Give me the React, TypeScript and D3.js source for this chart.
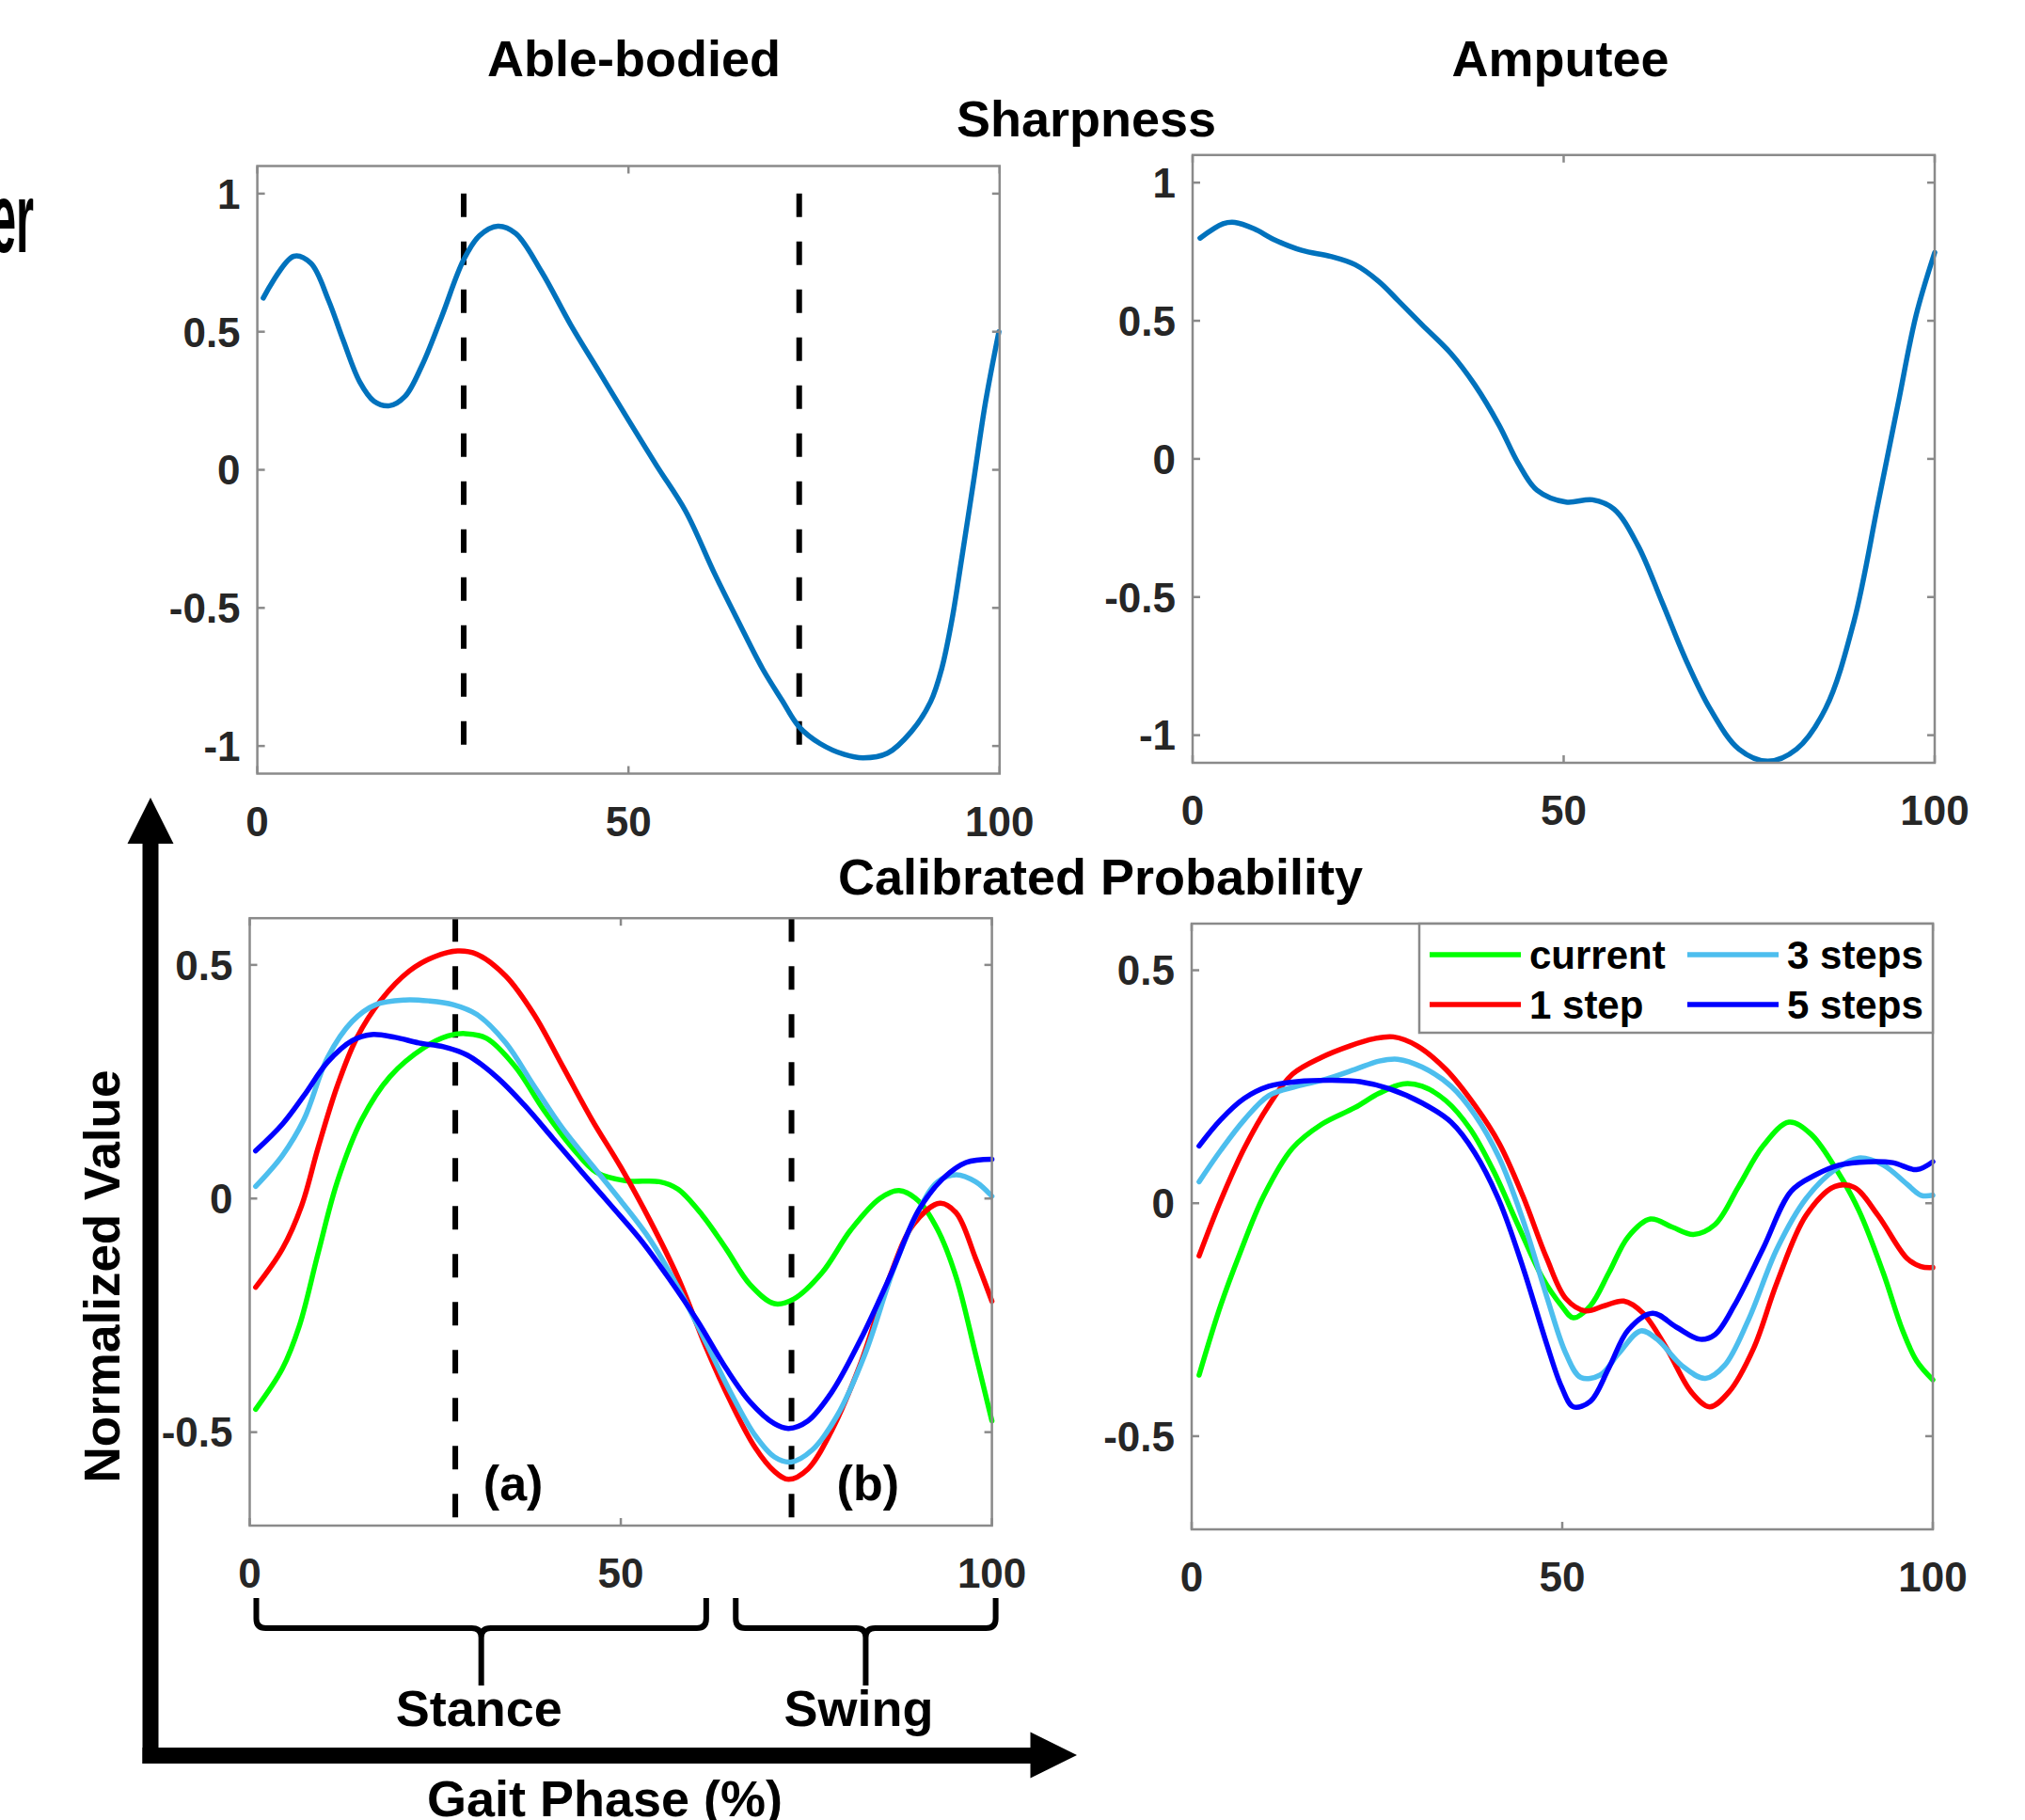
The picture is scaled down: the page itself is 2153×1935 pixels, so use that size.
import React from 'react'
import * as d3 from 'd3'

// gait phase (%) vs normalized value
const ableSharpness: [number, number][] = [
  [0.8, 0.622], [4.9, 0.773], [7.2, 0.748], [9.6, 0.613], [11.5, 0.474], [13.8, 0.318],
  [15.7, 0.249], [17.8, 0.232], [19.9, 0.266], [22.2, 0.379], [24.8, 0.552], [27.8, 0.761],
  [29.9, 0.847], [32.4, 0.882], [34.8, 0.856], [38.3, 0.717], [42.2, 0.526], [46.1, 0.353],
  [50.0, 0.18], [53.8, 0.015], [57.7, -0.15], [61.6, -0.376], [64.8, -0.549], [68.1, -0.722],
  [70.7, -0.835], [73.0, -0.931], [75.8, -0.991], [79.1, -1.031], [81.6, -1.043], [84.9, -1.026],
  [88.1, -0.948], [90.7, -0.84], [92.2, -0.72], [93.6, -0.54], [94.9, -0.32], [96.5, -0.04],
  [98.1, 0.245], [99.9, 0.5]
]

const ampSharpness: [number, number][] = [
  [1.0, 0.799], [4.1, 0.851], [5.7, 0.856], [8.3, 0.833], [10.9, 0.795], [14.7, 0.755],
  [18.6, 0.733], [21.9, 0.703], [25.1, 0.642], [27.7, 0.573], [30.9, 0.486], [34.8, 0.382],
  [38.0, 0.269], [41.3, 0.122], [43.9, -0.017], [46.4, -0.113], [50.3, -0.156], [53.9, -0.148],
  [56.8, -0.182], [60.0, -0.313], [63.3, -0.521], [66.5, -0.729], [69.7, -0.903], [73.6, -1.05],
  [77.5, -1.094], [81.4, -1.05], [85.3, -0.903], [89.1, -0.59], [92.4, -0.156], [95.0, 0.191],
  [97.5, 0.521], [100, 0.747]
]

const ableCurrent: [number, number][] = [
  [0.8, -0.451], [4.4, -0.364], [6.7, -0.272], [9.2, -0.118], [11.8, 0.036], [15.1, 0.169],
  [18.9, 0.261], [23.5, 0.323], [26.7, 0.348], [29.0, 0.353], [31.9, 0.343], [35.8, 0.282],
  [39.6, 0.19], [43.5, 0.108], [46.7, 0.056], [50.6, 0.038], [55.2, 0.036], [57.7, 0.02],
  [61.0, -0.036], [64.2, -0.108], [67.4, -0.184], [70.7, -0.225], [73.3, -0.215], [77.1, -0.159],
  [81.0, -0.067], [84.9, 0.0], [87.5, 0.017], [90.1, -0.005], [92.7, -0.067], [95.2, -0.169],
  [97.8, -0.333], [100, -0.476]
]
const able1Step: [number, number][] = [
  [0.8, -0.19], [4.4, -0.108], [7.0, -0.015], [9.2, 0.108], [11.8, 0.241], [14.4, 0.343],
  [17.7, 0.425], [21.5, 0.487], [24.8, 0.517], [28.0, 0.53], [30.6, 0.523], [34.5, 0.476],
  [38.3, 0.394], [42.2, 0.282], [46.1, 0.169], [50.0, 0.067], [53.9, -0.046], [57.7, -0.169],
  [61.6, -0.323], [64.8, -0.435], [68.1, -0.533], [70.7, -0.584], [72.6, -0.601], [75.2, -0.579],
  [78.4, -0.497], [82.3, -0.353], [86.2, -0.169], [89.4, -0.056], [93.0, -0.01], [95.2, -0.031],
  [97.8, -0.128], [100, -0.22]
]
const able3Steps: [number, number][] = [
  [0.8, 0.026], [4.4, 0.092], [7.3, 0.169], [10.5, 0.302], [13.8, 0.379], [17.0, 0.415],
  [20.9, 0.425], [24.1, 0.423], [27.4, 0.415], [30.6, 0.394], [34.5, 0.333], [38.3, 0.241],
  [42.2, 0.149], [46.1, 0.072], [50.0, -0.005], [53.9, -0.087], [57.7, -0.19], [61.6, -0.312],
  [64.8, -0.415], [68.1, -0.507], [70.7, -0.553], [72.9, -0.564], [75.8, -0.538], [79.1, -0.466],
  [82.9, -0.333], [86.8, -0.149], [90.1, -0.026], [92.7, 0.036], [95.2, 0.051], [97.8, 0.036],
  [100, 0.005]
]
const able5Steps: [number, number][] = [
  [0.8, 0.102], [4.4, 0.159], [7.3, 0.22], [10.5, 0.292], [13.8, 0.338], [16.4, 0.351],
  [19.6, 0.345], [22.8, 0.333], [26.1, 0.325], [29.3, 0.307], [33.2, 0.261], [37.0, 0.2],
  [40.9, 0.128], [44.8, 0.056], [48.7, -0.015], [52.6, -0.087], [56.4, -0.169], [60.3, -0.261],
  [64.2, -0.364], [67.4, -0.435], [70.7, -0.482], [72.6, -0.492], [75.2, -0.476], [78.4, -0.415],
  [82.3, -0.302], [86.2, -0.169], [90.1, -0.026], [93.3, 0.041], [96.5, 0.077], [100, 0.084]
]

const ampCurrent: [number, number][] = [
  [1.0, -0.369], [3.9, -0.22], [6.5, -0.108], [9.7, 0.015], [13.6, 0.118], [17.5, 0.169],
  [22.0, 0.205], [25.3, 0.236], [28.5, 0.256], [31.1, 0.251], [34.3, 0.22], [37.6, 0.159],
  [40.8, 0.067], [44.0, -0.046], [47.3, -0.159], [49.9, -0.22], [51.5, -0.246], [53.8, -0.22],
  [56.3, -0.149], [58.9, -0.072], [61.9, -0.034], [64.8, -0.051], [67.7, -0.067], [70.6, -0.046],
  [73.8, 0.036], [77.1, 0.123], [80.6, 0.174], [83.5, 0.149], [86.8, 0.077], [90.0, -0.015],
  [93.3, -0.149], [95.9, -0.272], [97.8, -0.338], [100, -0.379]
]
const amp1Step: [number, number][] = [
  [1.0, -0.113], [3.9, 0.005], [7.1, 0.118], [10.4, 0.21], [13.6, 0.277], [17.5, 0.313],
  [21.4, 0.338], [24.6, 0.353], [27.2, 0.357], [30.4, 0.338], [34.3, 0.287], [38.2, 0.21],
  [41.5, 0.128], [44.7, 0.015], [47.9, -0.118], [50.5, -0.205], [53.1, -0.231], [55.7, -0.22],
  [58.3, -0.21], [60.9, -0.236], [64.1, -0.312], [67.4, -0.405], [69.9, -0.437], [72.5, -0.405],
  [75.8, -0.312], [79.0, -0.169], [82.9, -0.026], [86.8, 0.036], [89.4, 0.034], [92.6, -0.026],
  [96.5, -0.118], [98.4, -0.136], [100, -0.138]
]
const amp3Steps: [number, number][] = [
  [1.0, 0.046], [3.9, 0.113], [7.1, 0.179], [10.4, 0.231], [14.2, 0.251], [18.1, 0.266],
  [22.0, 0.287], [25.3, 0.305], [27.8, 0.309], [31.1, 0.292], [35.0, 0.251], [38.2, 0.19],
  [41.5, 0.097], [44.7, -0.036], [47.9, -0.2], [50.5, -0.323], [52.5, -0.374], [55.1, -0.369],
  [57.6, -0.323], [60.6, -0.274], [62.8, -0.292], [66.1, -0.348], [69.3, -0.376], [71.9, -0.348],
  [75.1, -0.251], [79.0, -0.097], [82.9, 0.01], [86.8, 0.072], [90.0, 0.097], [93.3, 0.082],
  [96.5, 0.041], [98.4, 0.017], [100, 0.017]
]
const amp5Steps: [number, number][] = [
  [1.0, 0.123], [3.9, 0.179], [7.1, 0.225], [10.4, 0.251], [14.2, 0.261], [18.8, 0.264],
  [22.7, 0.261], [26.6, 0.246], [31.1, 0.215], [35.0, 0.174], [38.2, 0.108], [41.5, 0.005],
  [44.7, -0.138], [47.9, -0.302], [49.9, -0.394], [51.5, -0.437], [53.8, -0.425], [56.3, -0.353],
  [58.9, -0.272], [62.2, -0.236], [65.4, -0.266], [68.6, -0.292], [70.6, -0.282], [73.2, -0.22],
  [77.1, -0.097], [80.9, 0.026], [84.2, 0.061], [87.4, 0.082], [91.3, 0.089], [94.6, 0.087],
  [97.8, 0.072], [100, 0.089]
]

const xTicks = [0, 50, 100]
const sharpTicks = [-1, -0.5, 0, 0.5, 1]
const probTicks = [-0.5, 0, 0.5]
const sharpEvents = [27.8, 73.0]
const probEvents = [27.7, 73.0]
const legendNames = ['current', '1 step', '3 steps', '5 steps']
const seriesColors = ['#00ff00', '#ff0000', '#4dbeee', '#0000ff']
const braceRanges: [number, number][] = [[0, 61], [64.6, 100]]
const braceLabels = ['Stance', 'Swing']

const FONT = '"Liberation Sans", Arial, Helvetica, sans-serif'
const AXIS_GRAY = '#8a8a8a'

function Panel ({ box, yDomain, yTicks, series, colors, dashes, dashSpan, children }) {
  const x = d3.scaleLinear().domain([0, 100]).range([box.left, box.right])
  const y = d3.scaleLinear().domain(yDomain).range([box.bottom, box.top])
  const line = d3.line<[number, number]>()
    .x(d => x(d[0]))
    .y(d => y(d[1]))
    .curve(d3.curveCatmullRom.alpha(0.5))
  const tl = 8

  return (
    <g>
      {dashes && dashes.map((d, i) => (
        <line key={'dash' + i} x1={x(d)} x2={x(d)} y1={y(dashSpan[1])} y2={y(dashSpan[0])}
          stroke='#000' strokeWidth={6} strokeDasharray='25 26' />
      ))}
      {series.map((s, i) => (
        <path key={'s' + i} d={line(s) || ''} fill='none' stroke={colors[i]} strokeWidth={5.5}
          strokeLinejoin='round' strokeLinecap='round' />
      ))}
      <rect x={box.left} y={box.top} width={box.right - box.left} height={box.bottom - box.top}
        fill='none' stroke={AXIS_GRAY} strokeWidth={2.5} />
      {yTicks.map(t => (
        <g key={'yt' + t}>
          <line x1={box.left} x2={box.left + tl} y1={y(t)} y2={y(t)} stroke={AXIS_GRAY} strokeWidth={2.5} />
          <line x1={box.right} x2={box.right - tl} y1={y(t)} y2={y(t)} stroke={AXIS_GRAY} strokeWidth={2.5} />
          <text x={box.left - 18} y={y(t)} dy='0.36em' textAnchor='end' fontSize={44}
            fontWeight='bold' fill='#262626' fontFamily={FONT}>{String(t)}</text>
        </g>
      ))}
      {xTicks.map(t => (
        <g key={'xt' + t}>
          <line x1={x(t)} x2={x(t)} y1={box.bottom} y2={box.bottom - tl} stroke={AXIS_GRAY} strokeWidth={2.5} />
          <line x1={x(t)} x2={x(t)} y1={box.top} y2={box.top + tl} stroke={AXIS_GRAY} strokeWidth={2.5} />
          <text x={x(t)} y={box.bottom + 66} textAnchor='middle' fontSize={44}
            fontWeight='bold' fill='#262626' fontFamily={FONT}>{String(t)}</text>
        </g>
      ))}
      {children && children(x, y)}
    </g>
  )
}

function Brace ({ x0, x1, top, mid, bottom }) {
  const c = (x0 + x1) / 2
  const r = 10
  const d = `M${x0},${top} L${x0},${mid - r} Q${x0},${mid} ${x0 + r},${mid} L${c - r},${mid} ` +
    `Q${c},${mid} ${c},${mid + r} L${c},${bottom} M${c},${mid + r} Q${c},${mid} ${c + r},${mid} ` +
    `L${x1 - r},${mid} Q${x1},${mid} ${x1},${mid - r} L${x1},${top}`
  return <path d={d} fill='none' stroke='#000' strokeWidth={6} strokeLinejoin='round' />
}

export default function App () {
  const tlBox = { left: 273.6, right: 1062.8, top: 176.5, bottom: 822.5 }
  const trBox = { left: 1268, right: 2057, top: 164.8, bottom: 811 }
  const blBox = { left: 265.5, right: 1054.6, top: 976.2, bottom: 1622 }
  const brBox = { left: 1267, right: 2055, top: 982, bottom: 1626 }
  const sharpDomain = [-1.1, 1.1]
  const probDomain = [-0.7, 0.6]
  const title = { fontFamily: FONT, fontWeight: 'bold', fontSize: 54, fill: '#000', textAnchor: 'middle' as const }
  const labelShift = [-2, -7]

  return (
    <div style={{ position: 'absolute', left: 0, top: 0 }}>
      <svg width={2153} height={1935} viewBox='0 0 2153 1935' style={{ display: 'block', background: '#fff' }}>
        {/* fragment of a word cut off by the left edge */}
        <text transform='translate(36,268) scale(0.46,1)' textAnchor='end' fontSize={106}
          fontWeight='bold' fontFamily={FONT} fill='#000'>er</text>

        <text x={674} y={81} {...title}>Able-bodied</text>
        <text x={1659} y={81} {...title}>Amputee</text>
        <text x={1155} y={145} {...title}>Sharpness</text>
        <text x={1170} y={951} {...title}>Calibrated Probability</text>

        <Panel box={tlBox} yDomain={sharpDomain} yTicks={sharpTicks} series={[ableSharpness]}
          colors={['#0072bd']} dashes={sharpEvents} dashSpan={[-1, 1]} />
        <Panel box={trBox} yDomain={sharpDomain} yTicks={sharpTicks} series={[ampSharpness]}
          colors={['#0072bd']} />
        <Panel box={blBox} yDomain={probDomain} yTicks={probTicks}
          series={[ableCurrent, able1Step, able3Steps, able5Steps]} colors={seriesColors}
          dashes={probEvents} dashSpan={probDomain}>
          {(x, y) => (
            <g>
              <text x={x(35.5)} y={y(-0.645)} {...title} fontSize={52}>(a)</text>
              <text x={x(83.3)} y={y(-0.645)} {...title} fontSize={52}>(b)</text>
              {braceRanges.map((r, i) => (
                <g key={'br' + i}>
                  <Brace x0={x(r[0]) + 7} x1={x(r[1]) + 4} top={1699} mid={1731} bottom={1792} />
                  <text x={(x(r[0]) + x(r[1])) / 2 + 5 + labelShift[i]} y={1835} {...title}>{braceLabels[i]}</text>
                </g>
              ))}
            </g>
          )}
        </Panel>
        <Panel box={brBox} yDomain={probDomain} yTicks={probTicks}
          series={[ampCurrent, amp1Step, amp3Steps, amp5Steps]} colors={seriesColors}>
          {() => (
            <g>
              <rect x={1509} y={brBox.top} width={brBox.right - 1509} height={1098 - brBox.top}
                fill='#fff' stroke={AXIS_GRAY} strokeWidth={2.5} />
              {legendNames.map((name, i) => {
                const col = Math.floor(i / 2)
                const row = i % 2
                const lx = col === 0 ? 1520 : 1794
                const ly = row === 0 ? 1015 : 1068
                return (
                  <g key={name}>
                    <line x1={lx} x2={lx + 97} y1={ly} y2={ly} stroke={seriesColors[i]} strokeWidth={5.5} />
                    <text x={lx + 106} y={ly} dy='0.36em' fontSize={42} fontWeight='bold'
                      fontFamily={FONT} fill='#000'>{name}</text>
                  </g>
                )
              })}
            </g>
          )}
        </Panel>

        {/* big axis arrows */}
        <line x1={160} x2={160} y1={1875} y2={890} stroke='#000' strokeWidth={17} />
        <path d='M160,848 L135.5,897 L184.5,897 Z' fill='#000' />
        <line x1={151.5} x2={1100} y1={1866.5} y2={1866.5} stroke='#000' strokeWidth={17} />
        <path d='M1145,1866 L1095.5,1841.5 L1095.5,1890.5 Z' fill='#000' />

        <text transform='translate(127,1357) rotate(-90)' {...title} fontSize={53}>Normalized Value</text>
        <text x={643} y={1931} {...title}>Gait Phase (%)</text>
      </svg>
    </div>
  )
}
